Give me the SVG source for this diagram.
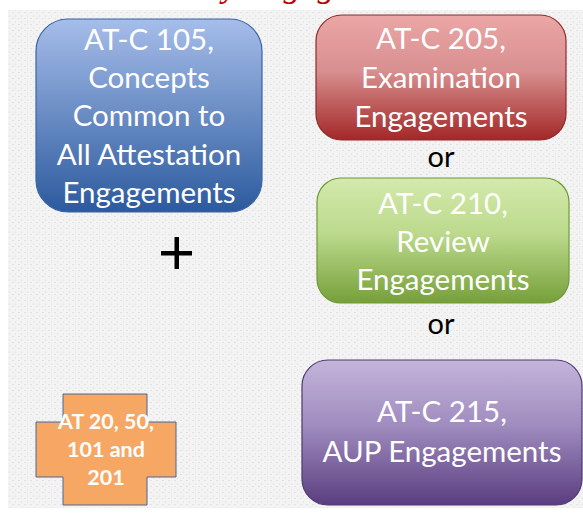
<svg xmlns="http://www.w3.org/2000/svg" width="583" height="515" viewBox="0 0 583 515">
  <defs>
    <pattern id="dots" width="6" height="6" patternUnits="userSpaceOnUse">
      <rect width="6" height="6" fill="#f3f3f3"/>
      <rect x="0" y="0" width="2" height="1" fill="#e2e2e2"/>
      <rect x="3" y="3" width="1" height="2" fill="#e6e6e6"/>
    </pattern>
    <linearGradient id="gBlue" x1="0" y1="0" x2="0" y2="1">
      <stop offset="0" stop-color="#a6bde9"/>
      <stop offset="1" stop-color="#2c5a9e"/>
    </linearGradient>
    <linearGradient id="gRed" x1="0" y1="0" x2="0" y2="1">
      <stop offset="0" stop-color="#eca6a6"/>
      <stop offset="0.45" stop-color="#d88f8f"/>
      <stop offset="1" stop-color="#a32727"/>
    </linearGradient>
    <linearGradient id="gGreen" x1="0" y1="0" x2="0" y2="1">
      <stop offset="0" stop-color="#d3eaac"/>
      <stop offset="0.45" stop-color="#bcd98c"/>
      <stop offset="1" stop-color="#76a03a"/>
    </linearGradient>
    <linearGradient id="gPurple" x1="0" y1="0" x2="0" y2="1">
      <stop offset="0" stop-color="#c4b4da"/>
      <stop offset="0.45" stop-color="#a08cbf"/>
      <stop offset="1" stop-color="#5a3d80"/>
    </linearGradient>
    <style>
      .lbl { font-family: "Lato", "Liberation Sans", sans-serif; font-size: 29.5px; fill: #ffffff; text-anchor: middle; }
      .op { font-family: "Lato", "Liberation Sans", sans-serif; font-size: 29px; fill: #000000; text-anchor: middle; }
      .small { font-family: "Lato", "Liberation Sans", sans-serif; font-size: 21.5px; font-weight: bold; fill: #ffffff; text-anchor: middle; }
      .title { font-family: "Liberation Serif", serif; font-style: italic; font-size: 34px; fill: #c00000; }
    </style>
  </defs>

  <!-- page background -->
  <rect width="583" height="515" fill="#ffffff"/>
  <rect x="8" y="10" width="575" height="498" fill="url(#dots)"/>

  <!-- heading, only its descenders reach into the page -->
  <text class="title" x="60" y="-3">Standards by Engagement</text>

  <g id="atc105">
    <rect x="36" y="19" width="226" height="193" rx="32" fill="url(#gBlue)" stroke="#3a64a2" stroke-width="1.2"/>
    <text class="lbl" x="149" y="50">AT-C 105,</text>
    <text class="lbl" x="149" y="88">Concepts</text>
    <text class="lbl" x="149" y="126">Common to</text>
    <text class="lbl" x="149" y="165">All Attestation</text>
    <text class="lbl" x="149" y="203">Engagements</text>
  </g>

  <g id="atc205">
    <rect x="316" y="15" width="250" height="125" rx="26" fill="url(#gRed)" stroke="#8e2a2a" stroke-width="1.2"/>
    <text class="lbl" x="441" y="49">AT-C 205,</text>
    <text class="lbl" x="441" y="88">Examination</text>
    <text class="lbl" x="441" y="127">Engagements</text>
  </g>

  <g id="atc210">
    <rect x="317" y="178" width="252" height="125" rx="24" fill="url(#gGreen)" stroke="#6f9a38" stroke-width="1.2"/>
    <text class="lbl" x="443" y="214">AT-C 210,</text>
    <text class="lbl" x="443" y="252">Review</text>
    <text class="lbl" x="443" y="290">Engagements</text>
  </g>

  <g id="atc215">
    <rect x="302" y="360" width="280" height="145" rx="26" fill="url(#gPurple)" stroke="#4f3a72" stroke-width="1.2"/>
    <text class="lbl" x="442" y="422">AT-C 215,</text>
    <text class="lbl" x="442" y="462">AUP Engagements</text>
  </g>

  <g id="at-legacy">
    <path d="M63 394 H147 V422 H176 V477 H147 V505 H63 V477 H36 V422 H63 Z" fill="#f6a764" stroke="#4a6696" stroke-width="1"/>
    <text class="small" x="106" y="429">AT 20, 50,</text>
    <text class="small" x="106" y="457">101 and</text>
    <text class="small" x="106" y="485">201</text>
  </g>

  <g id="operators">
    <rect x="161" y="251" width="31" height="4.5" fill="#000000"/>
    <rect x="174.5" y="237" width="4.5" height="32" fill="#000000"/>
    <text class="op" x="441" y="167">or</text>
    <text class="op" x="441" y="334">or</text>
  </g>
</svg>
